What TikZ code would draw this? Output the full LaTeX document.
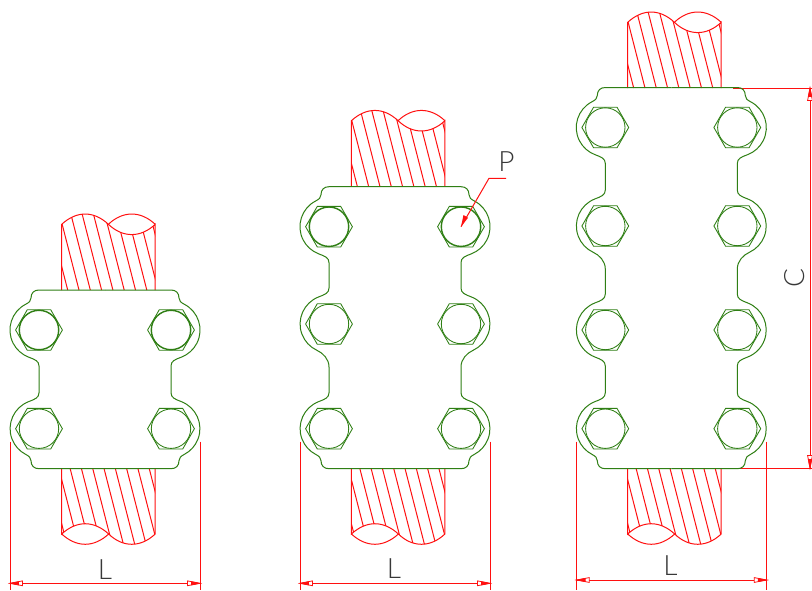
\documentclass[tikz,border=0pt]{standalone}
\usepackage{fontspec}
\setsansfont{Lato Light}
\definecolor{cgreen}{HTML}{2F7F14}
\definecolor{cred}{HTML}{FF1010}
\definecolor{ctext}{HTML}{383838}
\tikzset{
  plate/.style={draw=cgreen,line width=1pt},
  boltline/.style={draw=cgreen,line width=0.85pt},
  boltbold/.style={draw=cgreen,line width=1.4pt},
  rodline/.style={draw=cred,line width=1pt},
  dimline/.style={draw=cred,line width=1pt},
  tipfill/.style={fill=cred,draw=cred,line width=0.6pt},
  tiphollow/.style={fill=white,draw=cred,line width=0.8pt},
  dimlabel/.style={font=\sffamily\fontsize{28}{28}\selectfont,text=ctext,inner sep=0pt},
}
% bolt: style, x, y
\newcommand\mybolt[3]{
  \draw[#1] (#2,#3) circle (19.7);
  \draw[boltline] (#2+23.4,#3) -- (#2+11.7,#3-20.3) -- (#2-11.7,#3-20.3) -- (#2-23.4,#3) -- (#2-11.7,#3+20.3) -- (#2+11.7,#3+20.3) -- cycle;
}
% half-outline pieces (x relative to plate centre)
\newcommand\capT[1]{(0,#1-40) -- (-66,#1-40) .. controls (-71,#1-40) and (-74,#1-37) .. (-74,#1-32) .. controls (-74,#1-29) and (-76,#1-27.5) .. (-79.2,#1-25.8)}
\newcommand\capB[1]{.. controls (-76,#1+27.5) and (-74,#1+29) .. (-74,#1+32) .. controls (-74,#1+37) and (-71,#1+40) .. (-66,#1+40) -- (0,#1+40)}
\newcommand\notchP[2]{.. controls (-70,#1+29.5) and (-66,#1+31) .. (-66,#1+36) -- (-66,#2-36) .. controls (-66,#2-31) and (-70,#2-29.5) .. (-76.3,#2-27.1)}
\newcommand\bigS[2]{.. controls (-72,#1+29) and (-66,#1+35) .. (-66,#1+43) -- (-66,#2-36) .. controls (-66,#2-31) and (-70,#2-29.5) .. (-76.3,#2-27.1)}
% rods: xL, y of wave ends, y of plate edge
\newcommand\rodT[3]{
  \begin{scope}
    \clip (#1,#3) -- (#1,#2) .. controls (#1+15,#2-13.7) and (#1+32,#2-13.7) .. (#1+46.7,#2) .. controls (#1+61,#2+13.7) and (#1+79,#2+13.7) .. (#1+93.5,#2) -- (#1+93.5,#3) -- cycle;
    \foreach \k in {0,...,9}
      \draw[rodline] (#1+6+\k*11.3,#3) -- (#1+6+\k*11.3-21,#3-82);
  \end{scope}
  \draw[rodline] (#1,#3) -- (#1,#2) .. controls (#1+15,#2-13.7) and (#1+32,#2-13.7) .. (#1+46.7,#2) .. controls (#1+61,#2+13.7) and (#1+79,#2+13.7) .. (#1+93.5,#2) -- (#1+93.5,#3);
  \draw[rodline] (#1+46.7,#2) .. controls (#1+61,#2-13.7) and (#1+79,#2-13.7) .. (#1+93.5,#2);
}
\newcommand\rodB[3]{
  \begin{scope}
    \clip (#1,#3) -- (#1,#2) .. controls (#1+15,#2-13.7) and (#1+32,#2-13.7) .. (#1+47,#2) .. controls (#1+61,#2+13.7) and (#1+79,#2+13.7) .. (#1+93.5,#2) -- (#1+93.5,#3) -- cycle;
    \foreach \k in {-2,...,7}
      \draw[rodline] (#1+8.3+\k*11.3,#3) -- (#1+8.3+\k*11.3+21,#3+82);
  \end{scope}
  \draw[rodline] (#1,#3) -- (#1,#2) .. controls (#1+15,#2-13.7) and (#1+32,#2-13.7) .. (#1+47,#2) .. controls (#1+61,#2+13.7) and (#1+79,#2+13.7) .. (#1+93.5,#2) -- (#1+93.5,#3);
  \draw[rodline] (#1,#2) .. controls (#1+15,#2+13.7) and (#1+32,#2+13.7) .. (#1+47,#2);
}
% horizontal dimension: xL, xR, y, label node name
\newcommand\dimL[4]{
  \coordinate (#4a) at (#1,#3);
  \coordinate (#4b) at (#2,#3);
  \draw[dimline] (#1,441.5) -- (#1,590);
  \draw[dimline] (#2,441.5) -- (#2,590);
  \draw[dimline] (#4a) -- (#4b);
  \draw[tiphollow] (#4a) -- ++(12.5,-2.4) -- ++(0,4.8) -- cycle;
  \draw[tipfill] (#4a) -- ++(8.5,-1.6) -- ++(0,3.2) -- cycle;
  \draw[tiphollow] (#4b) -- ++(-12.5,-2.4) -- ++(0,4.8) -- cycle;
  \draw[tipfill] (#4b) -- ++(-8.5,-1.6) -- ++(0,3.2) -- cycle;
}
\begin{document}
\begin{tikzpicture}[x=1pt,y=1pt,yscale=-1]
\useasboundingbox (0,0) rectangle (812,590);
\fill[white] (0,0) rectangle (812,590);

% ---------- rods
\rodT{61.7}{224.3}{290}
\rodB{61.7}{534}{468}
\rodT{351.4}{120.7}{186.7}
\rodB{351.4}{534}{468}
\rodT{627.7}{22.3}{88}
\rodB{627.7}{534}{468}

% ---------- dimensions
\dimL{10}{200}{583.3}{la}
\dimL{300}{490}{583.3}{lb}
\dimL{576.7}{766.7}{580}{lc}
\node[dimlabel] (L1) at (105,569.5) {L};
\node[dimlabel] (L2) at (394,568.5) {L};
\node[dimlabel] (L3) at (670.5,565.5) {L};

% C dimension
\coordinate (ct) at (810,88);
\coordinate (cb) at (810,468);
\draw[dimline] (733,88) -- (812,88);
\draw[dimline] (733,468) -- (812,468);
\draw[dimline] (ct) -- (cb);
\draw[tiphollow] (ct) -- ++(-2.4,12.5) -- ++(4.8,0) -- cycle;
\draw[tipfill] (ct) -- ++(-1.7,8.5) -- ++(3.4,0) -- cycle;
\draw[tiphollow] (cb) -- ++(-2.4,-12.5) -- ++(4.8,0) -- cycle;
\draw[tipfill] (cb) -- ++(-1.7,-8.5) -- ++(3.4,0) -- cycle;
\node[dimlabel,rotate=90] (C) at (795,278) {C};

% ---------- clamp 1
\begin{scope}[shift={(105,0)}]
  \draw[plate] \capT{330} arc (243:111:29) \notchP{330}{428.7} arc (249:117:29) \capB{428.7};
\end{scope}
\begin{scope}[shift={(105,0)},xscale=-1]
  \draw[plate] \capT{330} arc (243:111:29) \notchP{330}{428.7} arc (249:117:29) \capB{428.7};
\end{scope}
\mybolt{boltbold}{39}{330}
\mybolt{boltbold}{171}{330}
\mybolt{boltline}{39}{428.7}
\mybolt{boltline}{171}{428.7}

% ---------- clamp 2
\begin{scope}[shift={(395,0)}]
  \draw[plate] \capT{226.7} arc (243:111:29) \notchP{226.7}{324} arc (249:115:29) \bigS{324}{428.7} arc (249:117:29) \capB{428.7};
\end{scope}
\begin{scope}[shift={(395,0)},xscale=-1]
  \draw[plate] \capT{226.7} arc (243:111:29) \notchP{226.7}{324} arc (249:115:29) \bigS{324}{428.7} arc (249:117:29) \capB{428.7};
\end{scope}
\mybolt{boltbold}{329}{226.7}
\mybolt{boltbold}{461}{226.7}
\mybolt{boltline}{329}{324}
\mybolt{boltline}{461}{324}
\mybolt{boltline}{329}{428.7}
\mybolt{boltline}{461}{428.7}

% ---------- clamp 3
\begin{scope}[shift={(671.3,0)}]
  \draw[plate] \capT{127.5} arc (243:111:29) \notchP{127.5}{226} arc (249:115:29) \bigS{226}{330} arc (249:111:29) \notchP{330}{428.7} arc (249:117:29) \capB{428.7};
\end{scope}
\begin{scope}[shift={(671.3,0)},xscale=-1]
  \draw[plate] \capT{127.5} arc (243:111:29) \notchP{127.5}{226} arc (249:115:29) \bigS{226}{330} arc (249:111:29) \notchP{330}{428.7} arc (249:117:29) \capB{428.7};
\end{scope}
\foreach \yy in {127.5,226,330,428.7}{
  \mybolt{boltline}{605.3}{\yy}
  \mybolt{boltline}{737.3}{\yy}
}

% ---------- P leader
\node[dimlabel] (P) at (506.5,162) {P};
\coordinate (pa) at (506,178.3);
\coordinate (pb) at (489,178.3);
\coordinate (pc) at (461,226.7);
\draw[dimline] (pa) -- (pb) -- (pc);
\fill[cred] (pc) -- (463.5,215) -- (468,217.8) -- cycle;
\end{tikzpicture}
\end{document}
